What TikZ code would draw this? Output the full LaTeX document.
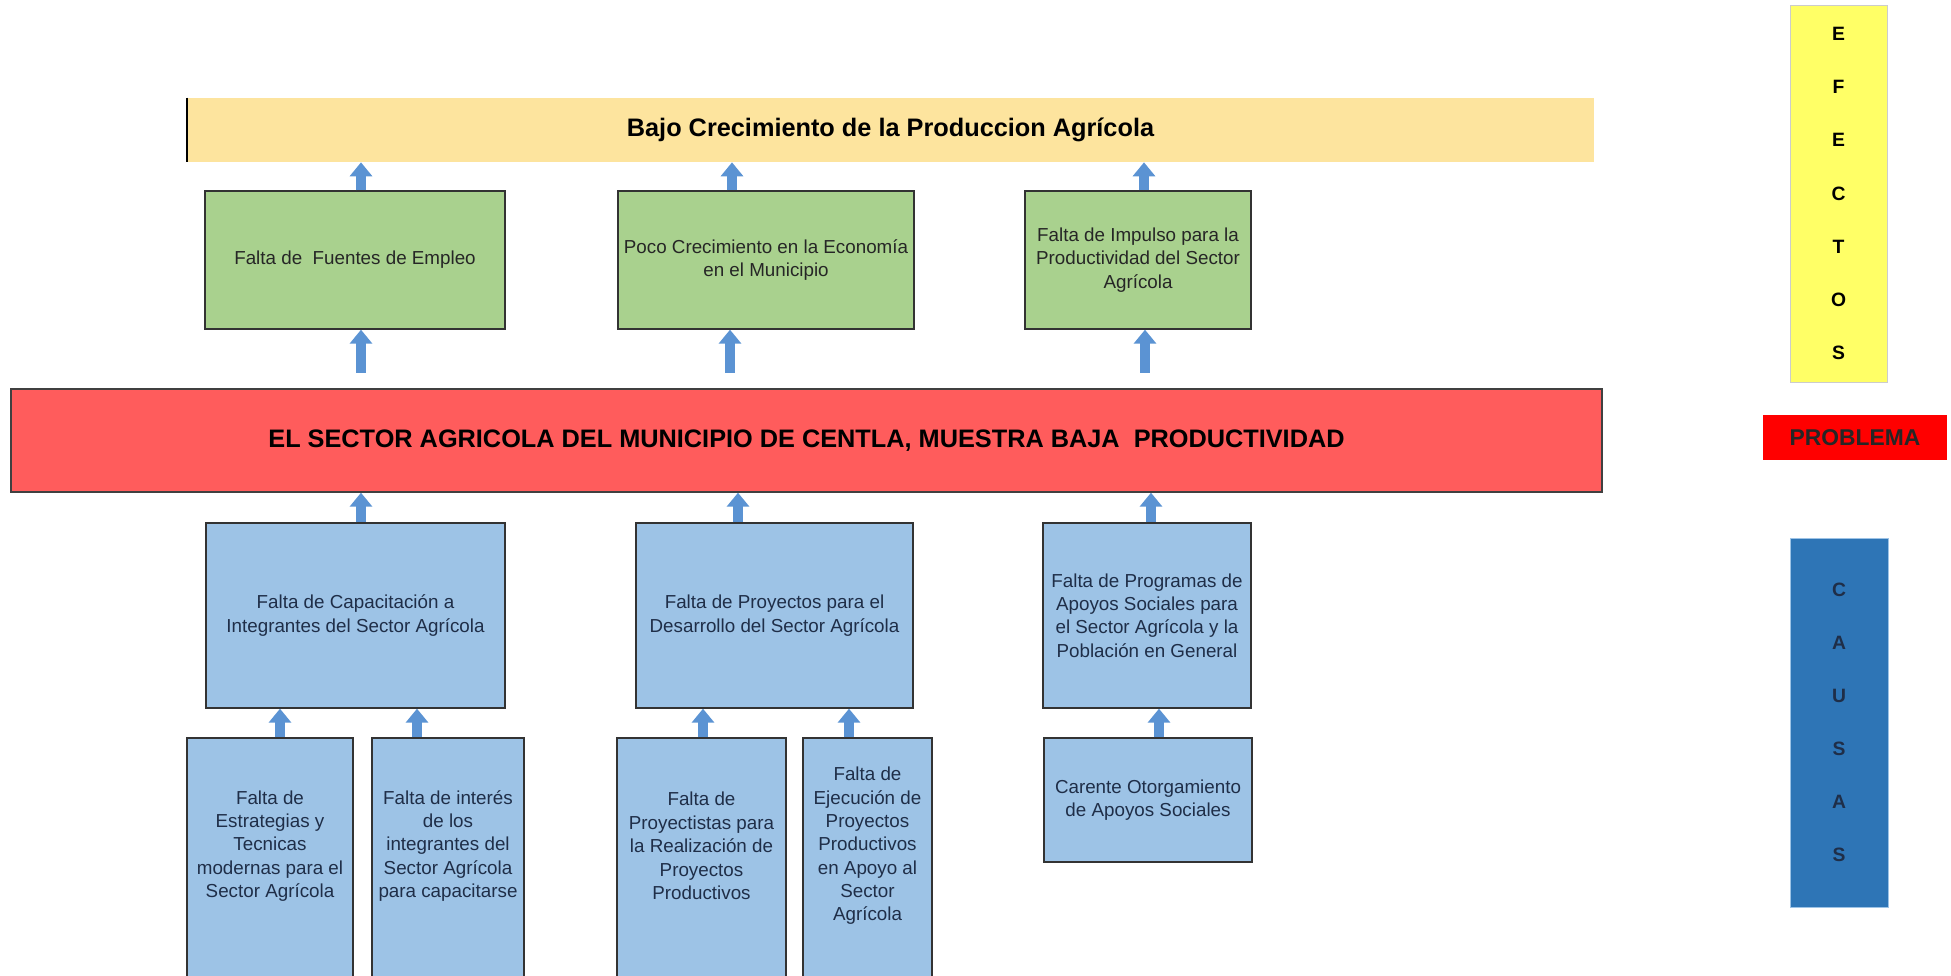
\documentclass[tikz,border=0pt]{standalone}
\usepackage{fontspec}
\setmainfont{Liberation Sans}
\usetikzlibrary{arrows.meta}

\definecolor{effectbar}{HTML}{FDE49E}
\definecolor{effectgreen}{HTML}{A9D18E}
\definecolor{problemred}{HTML}{FF5C5C}
\definecolor{causeblue}{HTML}{9DC3E6}
\definecolor{arrowblue}{HTML}{5B93D3}
\definecolor{sideyellow}{HTML}{FFFF66}
\definecolor{sidered}{HTML}{FF0000}
\definecolor{sideblue}{HTML}{2E75B6}
\definecolor{navytext}{HTML}{1F2E48}

\tikzset{
  boxtext/.style={font=\fontsize{10.7}{13.3}\selectfont, align=center, inner sep=1pt},
  effectbox/.style={boxtext, draw=black!80, line width=0.8pt, fill=effectgreen, text=black!85, minimum height=2.76cm},
  causebox/.style={boxtext, draw=black!80, line width=0.8pt, fill=causeblue, text=navytext},
  leaf/.style={causebox, minimum height=5.44cm},
  leaftext/.style={boxtext, text=navytext},
  uparrow/.style={draw=arrowblue, line width=0.21cm, -{Triangle[width=0.44cm, length=0.28cm]}},
  sidebox/.style={font=\bfseries\fontsize{11}{30.2}\selectfont, align=center, inner sep=0pt},
  bigbar/.style={font=\bfseries\fontsize{14.4}{17}\selectfont, inner sep=0pt}
}

\begin{document}
\begin{tikzpicture}[x=0.02cm, y=-0.02cm]
  \useasboundingbox (0,0) rectangle (1951,976);
  % efectos
  \node[bigbar, fill=effectbar, minimum width=28.14cm, minimum height=1.28cm] (top) at (890.5,130) {Bajo Crecimiento de la Produccion Agrícola};
  \draw[line width=1.2pt] (top.north west) -- (top.south west);
  \node[effectbox, minimum width=6cm] (g1) at (355,260) {Falta de\ \ Fuentes de Empleo};
  \node[effectbox, minimum width=5.92cm] (g2) at (766,260) {Poco Crecimiento en la Economía\\en el Municipio};
  \node[effectbox, minimum width=4.52cm] (g3) at (1138,260) {Falta de Impulso para la\\Productividad del Sector\\Agrícola};
  \draw[uparrow] ([xshift=0.12cm]g1.north) -- ([xshift=0.12cm]g1.north |- top.south);
  \draw[uparrow] ([xshift=-0.68cm]g2.north) -- ([xshift=-0.68cm]g2.north |- top.south);
  \draw[uparrow] ([xshift=0.12cm]g3.north) -- ([xshift=0.12cm]g3.north |- top.south);
  % problema
  \node[bigbar, fill=problemred, draw=black!75, line width=0.8pt, minimum width=31.82cm, minimum height=2.06cm] (prob) at (806.5,440.5) {EL SECTOR AGRICOLA DEL MUNICIPIO DE CENTLA, MUESTRA BAJA\ \ PRODUCTIVIDAD};
  \draw[uparrow] ([xshift=0.12cm, yshift=-0.86cm]g1.south) -- ([xshift=0.12cm]g1.south);
  \draw[uparrow] ([xshift=-0.72cm, yshift=-0.86cm]g2.south) -- ([xshift=-0.72cm]g2.south);
  \draw[uparrow] ([xshift=0.14cm, yshift=-0.86cm]g3.south) -- ([xshift=0.14cm]g3.south);
  % causas
  \node[causebox, minimum width=5.98cm, minimum height=3.7cm] (b1) at (355.5,615.5) {Falta de Capacitación a\\Integrantes del Sector Agrícola};
  \node[causebox, minimum width=5.54cm, minimum height=3.7cm] (b2) at (774.5,615.5) {Falta de Proyectos para el\\Desarrollo del Sector Agrícola};
  \node[causebox, minimum width=4.16cm, minimum height=3.7cm] (b3) at (1147,615.5) {Falta de Programas de\\Apoyos Sociales para\\el Sector Agrícola y la\\Población en General};
  \draw[uparrow] ([xshift=0.11cm]b1.north) -- ([xshift=0.11cm]b1.north |- prob.south);
  \draw[uparrow] ([xshift=-0.73cm]b2.north) -- ([xshift=-0.73cm]b2.north |- prob.south);
  \draw[uparrow] ([xshift=0.08cm]b3.north) -- ([xshift=0.08cm]b3.north |- prob.south);
  \node[leaf, minimum width=3.32cm, label={[leaftext, yshift=0.56cm]center:{Falta de\\Estrategias y\\Tecnicas\\modernas para el\\Sector Agrícola}}] (c1) at (270,874) {};
  \node[leaf, minimum width=3.04cm, label={[leaftext, yshift=0.56cm]center:{Falta de interés\\de los\\integrantes del\\Sector Agrícola\\para capacitarse}}] (c2) at (448,874) {};
  \node[leaf, minimum width=3.38cm, label={[leaftext, yshift=0.56cm]center:{Falta de\\Proyectistas para\\la Realización de\\Proyectos\\Productivos}}] (c3) at (701.5,874) {};
  \node[leaf, minimum width=2.58cm, label={[leaftext, yshift=0.56cm]center:{Falta de\\Ejecución de\\Proyectos\\Productivos\\en Apoyo al\\Sector\\Agrícola}}] (c4) at (867.5,874) {};
  \node[causebox, minimum width=4.16cm, minimum height=2.48cm] (c5) at (1148,800) {Carente Otorgamiento\\de Apoyos Sociales};
  \draw[uparrow] ([xshift=0.2cm]c1.north) -- ([xshift=0.2cm]c1.north |- b1.south);
  \draw[uparrow] ([xshift=-0.62cm]c2.north) -- ([xshift=-0.62cm]c2.north |- b1.south);
  \draw[uparrow] ([xshift=0.03cm]c3.north) -- ([xshift=0.03cm]c3.north |- b2.south);
  \draw[uparrow] ([xshift=-0.37cm]c4.north) -- ([xshift=-0.37cm]c4.north |- b2.south);
  \draw[uparrow] ([xshift=0.22cm]c5.north) -- ([xshift=0.22cm]c5.north |- b3.south);
  % side labels
  \node[sidebox, fill=sideyellow, draw=black!20, minimum width=1.94cm, minimum height=7.54cm] (efectos) at (1838.5,193.5) {E\\F\\E\\C\\T\\O\\S};
  \node[font=\bfseries\fontsize{13}{15}\selectfont, inner sep=0pt, fill=sidered, text=black!85, minimum width=3.68cm, minimum height=0.9cm] (problema) at (1855,437.5) {PROBLEMA};
  \node[sidebox, fill=sideblue, draw=causeblue, text=navytext, minimum width=1.96cm, minimum height=7.38cm] (causas) at (1839,722.5) {C\\A\\U\\S\\A\\S};
\end{tikzpicture}
\end{document}
